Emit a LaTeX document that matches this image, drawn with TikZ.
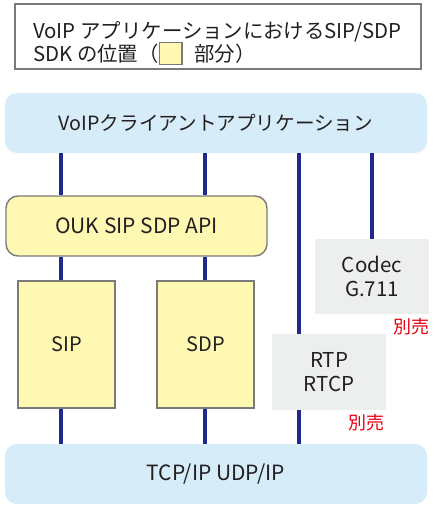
\documentclass[tikz,border=0pt]{standalone}
\usepackage{fontspec}
\setmainfont{Noto Sans CJK JP}
\definecolor{txt}{HTML}{231F20}
\definecolor{appblue}{HTML}{D6ECF9}
\definecolor{sdkyellow}{HTML}{FFF8B3}
\definecolor{edgegray}{HTML}{7A7A7A}
\definecolor{boxgray}{HTML}{EDEEEE}
\definecolor{navy}{HTML}{1F2A8C}
\definecolor{sellred}{HTML}{E60012}
\tikzset{
  layer/.style={fill=appblue, rounded corners=12pt, draw=none, text=txt, font=\fontsize{19.6}{22}\selectfont},
  sdkapi/.style={fill=sdkyellow, draw=edgegray, line width=1.4pt, rounded corners=12pt, text=txt, font=\fontsize{21}{22}\selectfont},
  sdkbox/.style={fill=sdkyellow, draw=edgegray, line width=1.4pt, text=txt, font=\fontsize{20}{22}\selectfont},
  extbox/.style={fill=boxgray, draw=none, text=txt, align=center, font=\fontsize{20.5}{24}\selectfont},
  sold/.style={text=sellred, font=\fontsize{18}{20}\selectfont},
  link/.style={draw=navy, line width=4.5pt},
  titletext/.style={text=txt, font=\fontsize{20.4}{23}\selectfont, inner sep=0pt}
}
\begin{document}
\begin{tikzpicture}[x=1pt,y=-1pt]
\useasboundingbox (0,0) rectangle (436,511);
% title
\node[draw=edgegray, line width=1.6pt, minimum width=406pt, minimum height=65pt, inner sep=0pt] (title) at (218,36.5) {};
\node[titletext, anchor=base west] (t1) at (33,38) {VoIP アプリケーションにおけるSIP/SDP};
\node[titletext, anchor=base west] (t2) at (33,61) {SDK の位置（{\setlength\fboxsep{0pt}\setlength\fboxrule{1.4pt}\raisebox{-3pt}{\fcolorbox{edgegray}{sdkyellow}{\rule{0pt}{21pt}\hspace{21pt}}}}\hspace{12pt}部分）};
% layers
\node[layer, minimum width=422pt, minimum height=60pt] (app) at (216,123) {VoIPクライアントアプリケーション};
\node[layer, minimum width=422pt, minimum height=60pt, font=\fontsize{21}{22}\selectfont] (tcp) at (216,474) {TCP/IP UDP/IP};
\node[sdkapi, minimum width=261pt, minimum height=60pt] (api) at (136.5,226) {OUK SIP SDP API};
\node[sdkbox, minimum width=97pt, minimum height=127pt] (sip) at (66.5,344.5) {SIP};
\node[sdkbox, minimum width=97pt, minimum height=127pt] (sdp) at (205.5,344.5) {SDP};
\node[extbox, minimum width=114pt, minimum height=75pt] (codec) at (372,276.5) {Codec\\G.711};
\node[extbox, minimum width=114pt, minimum height=76pt] (rtp) at (329,372) {RTP\\RTCP};
\node[sold] (sold1) at (411.5,327) {別売};
\node[sold] (sold2) at (366.5,423) {別売};
% x positions of the links
\coordinate (xa) at (61,0);
\coordinate (xb) at (205,0);
\coordinate (xc) at (299,0);
\coordinate (xd) at (372,0);
\draw[link] (app.south -| xa) -- (api.north -| xa);
\draw[link] (api.south -| xa) -- (sip.north -| xa);
\draw[link] (sip.south -| xa) -- (tcp.north -| xa);
\draw[link] (app.south -| xb) -- (api.north -| xb);
\draw[link] (api.south -| xb) -- (sdp.north -| xb);
\draw[link] (sdp.south -| xb) -- (tcp.north -| xb);
\draw[link] (app.south -| xc) -- (rtp.north -| xc);
\draw[link] (rtp.south -| xc) -- (tcp.north -| xc);
\draw[link] (app.south -| xd) -- (codec.north -| xd);
\end{tikzpicture}
\end{document}
